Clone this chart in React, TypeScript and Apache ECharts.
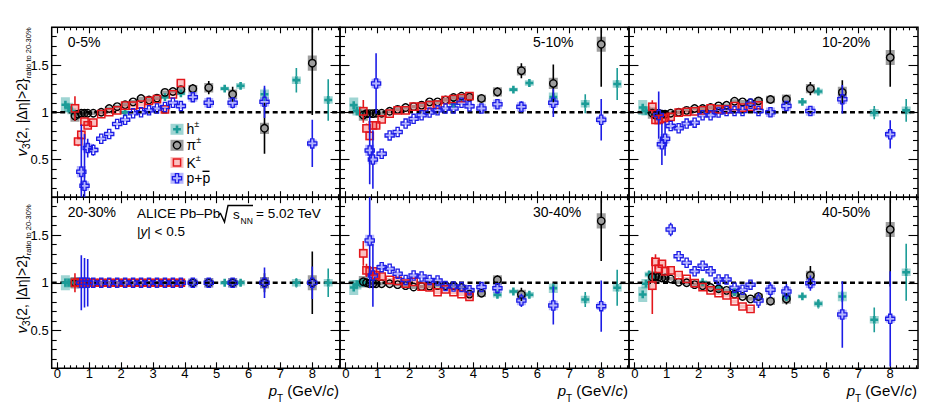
import React, { useEffect, useRef } from "react";
import * as echarts from "echarts";

const FONT = '"Liberation Sans", Arial, Helvetica, sans-serif';
const N = null;

// pT bin centres (GeV/c) for each species
const PT_H = [0.25, 0.35, 0.45, 0.55, 0.65, 0.75, 0.85, 0.95, 1.125, 1.375, 1.625, 1.875, 2.125, 2.375, 2.625, 2.875, 3.125, 3.375, 3.625, 3.875, 4.25, 4.75, 5.25, 5.75, 6.5, 7.5, 8.5];
const PT_PI = [0.55, 0.65, 0.75, 0.85, 0.95, 1.125, 1.375, 1.625, 1.875, 2.125, 2.375, 2.625, 2.875, 3.125, 3.375, 3.625, 3.875, 4.25, 4.75, 5.5, 6.5, 8.0];
const PT_K = [0.55, 0.65, 0.75, 0.85, 0.95, 1.125, 1.375, 1.625, 1.875, 2.125, 2.375, 2.625, 2.875, 3.125, 3.375, 3.625, 3.875];
const PT_P = [0.75, 0.85, 0.95, 1.125, 1.375, 1.625, 1.875, 2.125, 2.375, 2.625, 2.875, 3.125, 3.375, 3.625, 3.875, 4.25, 4.75, 5.5, 6.5, 8.0];

// systematic uncertainties (half height of the boxes)
const SYS_H = [0.08, 0.05, 0.03, 0.02, 0.02, 0.02, 0.02, 0.02, 0.02, 0.02, 0.02, 0.02, 0.02, 0.02, 0.02, 0.02, 0.02, 0.02, 0.02, 0.02, 0.03, 0.03, 0.02, 0.03, 0.05, 0.04, 0.04];
const SYS_PI = [0.06, 0.02, 0.02, 0.02, 0.02, 0.02, 0.02, 0.02, 0.02, 0.02, 0.02, 0.02, 0.02, 0.02, 0.02, 0.02, 0.03, 0.04, 0.05, 0.05, 0.06, 0.08];
const SYS_K = [0.05, 0.04, 0.05, 0.04, 0.03, 0.03, 0.02, 0.02, 0.02, 0.02, 0.02, 0.02, 0.02, 0.02, 0.02, 0.02, 0.03];
const SYS_P = [0.06, 0.05, 0.05, 0.03, 0.02, 0.02, 0.02, 0.02, 0.02, 0.02, 0.02, 0.02, 0.02, 0.02, 0.03, 0.05, 0.05, 0.05, 0.05, 0.04];

type Pt = [number, number] | null; // [value, stat. error]

// 0-5%
const H_05: Pt[] = [[1.08, 0.02], [1.05, 0.01], [1.01, 0.01], N, N, N, N, N, N, N, N, N, [1.0, 0.01], N, N, N, N, [1.16, 0.01], N, [1.2, 0.01], N, N, [1.25, 0.02], [1.28, 0.03], [1.19, 0.07], [1.34, 0.13], [1.13, 0.22]];
const PI_05: Pt[] = [[0.96, 0.05], [0.98, 0.02], [0.99, 0.01], [0.99, 0.01], [0.99, 0.01], [0.99, 0.01], [1.0, 0.01], [1.04, 0.01], [1.06, 0.01], [1.08, 0.01], [1.11, 0.01], [1.145, 0.01], [1.13, 0.01], [1.15, 0.01], [1.21, 0.02], [1.22, 0.02], [1.24, 0.02], [1.25, 0.05], [1.26, 0.07], [1.19, 0.08], [0.83, 0.27], [1.52, 0.55]];
const K_05: Pt[] = [[1.04, 0.13], [0.69, 0.05], [0.76, 0.04], [0.9, 0.03], [0.86, 0.03], [0.89, 0.02], [0.98, 0.01], [1.0, 0.01], [1.02, 0.01], [1.07, 0.01], [1.07, 0.01], [1.08, 0.01], [1.12, 0.01], [1.14, 0.01], [1.03, 0.02], [1.19, 0.02], [1.31, 0.03]];
const P_05: Pt[] = [[0.37, 0.5], [0.22, 0.55], [0.62, 0.1], [0.6, 0.06], [0.72, 0.03], [0.77, 0.02], [0.875, 0.02], [0.92, 0.02], [0.99, 0.02], [1.0, 0.02], [1.02, 0.02], [1.04, 0.02], [1.055, 0.02], [1.1, 0.02], [1.065, 0.03], [1.16, 0.04], [1.1, 0.05], [1.1, 0.06], [1.11, 0.17], [0.67, 0.25]];

// 5-10%
const H_510: Pt[] = [[1.075, 0.02], [1.015, 0.01], [0.99, 0.01], N, N, N, N, N, N, N, N, N, N, N, N, N, N, [1.09, 0.01], N, N, N, N, [1.24, 0.02], [1.31, 0.03], [1.16, 0.05], [1.09, 0.1], [1.3, 0.17]];
const PI_510: Pt[] = [[0.97, 0.04], [0.985, 0.02], [0.986, 0.01], [0.986, 0.01], [0.99, 0.01], [0.99, 0.01], [1.01, 0.01], [1.03, 0.01], [1.05, 0.01], [1.06, 0.01], [1.075, 0.01], [1.11, 0.01], [1.11, 0.01], [1.13, 0.01], [1.156, 0.02], [1.17, 0.02], [1.16, 0.02], [1.146, 0.03], [1.216, 0.05], [1.44, 0.08], [1.305, 0.2], [1.72, 0.45]];
const K_510: Pt[] = [[1.01, 0.12], [0.83, 0.05], [0.75, 0.05], [0.86, 0.03], [0.86, 0.03], [0.925, 0.02], [0.985, 0.01], [1.02, 0.01], [1.02, 0.01], [1.06, 0.01], [1.06, 0.01], [1.075, 0.01], [1.08, 0.01], [1.13, 0.01], [1.14, 0.02], [1.15, 0.02], [1.17, 0.03]];
const P_510: Pt[] = [[0.596, 0.36], [0.5, 0.31], [1.305, 0.32], [0.56, 0.05], [0.755, 0.03], [0.79, 0.02], [0.88, 0.02], [0.93, 0.02], [0.968, 0.02], [0.997, 0.02], [1.02, 0.02], [1.04, 0.02], [1.04, 0.02], [1.1, 0.02], [1.064, 0.03], [1.04, 0.03], [1.085, 0.04], [1.057, 0.06], [1.1, 0.15], [0.92, 0.22]];

// 10-20%
const H_1020: Pt[] = [[1.05, 0.02], [1.015, 0.01], N, N, N, N, N, N, N, N, N, N, N, N, N, N, N, N, N, N, N, N, [1.11, 0.02], [1.22, 0.02], N, [0.995, 0.07], [1.02, 0.12]];
const PI_1020: Pt[] = [[0.99, 0.03], [0.97, 0.02], [0.99, 0.01], [0.98, 0.01], [0.98, 0.01], [0.99, 0.01], [1.0, 0.01], [1.02, 0.01], [1.04, 0.01], [1.04, 0.01], [1.05, 0.01], [1.067, 0.01], [1.074, 0.01], [1.117, 0.01], [1.11, 0.01], [1.1, 0.02], [1.12, 0.02], [1.135, 0.03], [1.138, 0.04], [1.25, 0.07], [1.21, 0.13], [1.58, 0.31]];
const K_1020: Pt[] = [[1.057, 0.07], [0.92, 0.03], [0.92, 0.03], [0.93, 0.02], [0.94, 0.02], [0.95, 0.02], [0.997, 0.01], [1.004, 0.01], [1.01, 0.01], [1.02, 0.01], [1.04, 0.01], [1.03, 0.01], [1.03, 0.01], [1.064, 0.01], [1.05, 0.02], [1.06, 0.02], [1.074, 0.02]];
const P_1020: Pt[] = [[0.97, 0.25], [0.66, 0.22], [0.72, 0.18], [0.855, 0.03], [0.83, 0.02], [0.88, 0.02], [0.89, 0.02], [0.968, 0.02], [0.968, 0.02], [0.997, 0.02], [1.014, 0.02], [1.014, 0.02], [1.014, 0.02], [1.09, 0.02], [1.014, 0.02], [1.0, 0.03], [1.067, 0.04], [1.014, 0.05], [1.138, 0.15], [0.766, 0.15]];

// 20-30% (reference class)
const H_2030: Pt[] = [[1, 0.01], [1, 0.01], [1, 0.01], N, N, N, N, N, N, N, N, N, N, N, N, N, N, N, N, N, N, N, [1, 0.01], [1, 0.02], N, [1, 0.05], [1, 0.15]];
const PI_2030: Pt[] = [[1, 0.03], [1, 0.02], [1, 0.01], [1, 0.01], [1, 0.01], [1, 0.01], [1, 0.01], [1, 0.01], [1, 0.01], [1, 0.01], [1, 0.01], [1, 0.01], [1, 0.01], [1, 0.01], [1, 0.01], [1, 0.01], [1, 0.01], [1, 0.02], [1, 0.03], [1, 0.05], [1, 0.1], [1, 0.33]];
const K_2030: Pt[] = [[1, 0.1], [1, 0.03], [1, 0.02], [1, 0.02], [1, 0.01], [1, 0.01], [1, 0.01], [1, 0.01], [1, 0.01], [1, 0.01], [1, 0.01], [1, 0.01], [1, 0.01], [1, 0.01], [1, 0.01], [1, 0.01], [1, 0.01]];
const P_2030: Pt[] = [[1, 0.29], [1, 0.26], [1, 0.25], [1, 0.03], [1, 0.02], [1, 0.02], [1, 0.02], [1, 0.02], [1, 0.02], [1, 0.02], [1, 0.02], [1, 0.02], [1, 0.02], [1, 0.02], [1, 0.02], [1, 0.03], [1, 0.04], [1, 0.05], [1, 0.16], [1, 0.17]];

// 30-40%
const H_3040: Pt[] = [[0.95, 0.02], [0.98, 0.01], [1.0, 0.01], [1.0, 0.01], N, N, N, N, N, N, N, N, N, N, N, N, N, N, N, N, N, [0.874, 0.02], [0.908, 0.02], [0.874, 0.03], [0.943, 0.05], [0.824, 0.08], [0.947, 0.19]];
const PI_3040: Pt[] = [[1.01, 0.03], [1.0, 0.02], [0.99, 0.01], [0.99, 0.01], [0.99, 0.01], [0.99, 0.01], [0.99, 0.01], [0.98, 0.01], [0.97, 0.01], [0.955, 0.01], [0.96, 0.01], [0.965, 0.01], [0.97, 0.01], [0.97, 0.01], [0.97, 0.01], [0.95, 0.02], [0.88, 0.02], [0.89, 0.03], [1.03, 0.05], [0.877, 0.07], N, [1.65, 0.42]];
const K_3040: Pt[] = [[1.31, 0.13], [1.13, 0.07], [1.12, 0.04], [1.12, 0.03], [1.08, 0.03], [1.066, 0.02], [1.03, 0.01], [1.02, 0.01], [0.99, 0.01], [1.01, 0.01], [0.96, 0.01], [0.95, 0.01], [0.9, 0.01], [0.93, 0.01], [0.9, 0.02], [0.88, 0.02], [0.85, 0.02]];
const P_3040: Pt[] = [[1.445, 0.5], [1.077, 0.33], N, [1.164, 0.05], [1.147, 0.03], [1.095, 0.02], [1.03, 0.02], [1.077, 0.02], [1.066, 0.02], [1.03, 0.02], [1.024, 0.02], [0.965, 0.02], [0.96, 0.02], [0.954, 0.02], [0.92, 0.03], [0.954, 0.04], [0.943, 0.04], [0.814, 0.07], [0.76, 0.2], [0.754, 0.27]];

// 40-50%
const H_4050: Pt[] = [[0.877, 0.03], [0.99, 0.02], [1.087, 0.02], [1.06, 0.01], N, N, N, N, N, N, N, N, [1.006, 0.01], N, [0.947, 0.01], N, [0.9, 0.01], N, N, N, N, [0.85, 0.02], [0.856, 0.02], [0.78, 0.05], [0.856, 0.06], [0.61, 0.13], [1.11, 0.3]];
const PI_4050: Pt[] = [[1.06, 0.03], [1.066, 0.02], [1.06, 0.01], [1.05, 0.01], [1.05, 0.01], [1.04, 0.01], [1.006, 0.01], [1.0, 0.01], [0.98, 0.01], [0.97, 0.01], [0.95, 0.01], [0.937, 0.01], [0.92, 0.01], [0.88, 0.01], [0.856, 0.02], [0.83, 0.02], [0.856, 0.04], [0.806, 0.04], [0.83, 0.06], [1.077, 0.1], N, [1.56, 0.6]];
const K_4050: Pt[] = [[0.97, 0.3], [1.22, 0.08], [1.147, 0.04], [1.2, 0.03], [1.12, 0.03], [1.13, 0.02], [1.08, 0.01], [1.04, 0.01], [0.996, 0.01], [0.955, 0.01], [0.92, 0.01], [0.89, 0.01], [0.866, 0.01], [0.803, 0.02], [0.75, 0.03], [0.726, 0.04], N];
const P_4050: Pt[] = [N, N, N, [1.56, 0.07], [1.28, 0.05], [1.21, 0.04], [1.12, 0.03], [1.18, 0.03], [1.12, 0.03], [1.035, 0.03], [1.035, 0.03], [0.947, 0.03], [0.926, 0.03], [0.98, 0.04], [0.814, 0.08], [0.926, 0.08], [0.908, 0.08], [0.996, 0.08], [0.666, 0.35], [0.62, 0.5]];

const X_TICKS = [0, 1, 2, 3, 4, 5, 6, 7, 8];
const Y_TICKS = [0.5, 1, 1.5];
const X_MIN = -0.18;
const X_MAX = 8.87;
const Y_MIN = 0.1;
const Y_MAX = 1.9;

const MINOR_X: number[] = [];
for (let i = 1; i <= 44; i++) {
  const v = +(i * 0.2).toFixed(1);
  if (v % 1 !== 0) MINOR_X.push(v);
}
const MINOR_Y: number[] = [];
for (let i = 1; i <= 19; i++) {
  if (i % 5 !== 0) MINOR_Y.push(i / 10);
}

const PANELS = [
  { label: "0-5%", right: false, h: H_05, pi: PI_05, k: K_05, p: P_05 },
  { label: "5-10%", right: true, h: H_510, pi: PI_510, k: K_510, p: P_510 },
  { label: "10-20%", right: true, h: H_1020, pi: PI_1020, k: K_1020, p: P_1020 },
  { label: "20-30%", right: false, h: H_2030, pi: PI_2030, k: K_2030, p: P_2030 },
  { label: "30-40%", right: true, h: H_3040, pi: PI_3040, k: K_3040, p: P_3040 },
  { label: "40-50%", right: true, h: H_4050, pi: PI_4050, k: K_4050, p: P_4050 },
];

const SPECIES = [
  { key: "h", xs: PT_H, sys: SYS_H, color: "#1b9c97", box: "rgba(27,156,151,0.42)", marker: "fcross" },
  { key: "pi", xs: PT_PI, sys: SYS_PI, color: "#000000", box: "rgba(0,0,0,0.38)", marker: "circle" },
  { key: "k", xs: PT_K, sys: SYS_K, color: "#e3171c", box: "rgba(240,60,60,0.32)", marker: "square" },
  { key: "p", xs: PT_P, sys: SYS_P, color: "#1c1ce6", box: "rgba(70,70,250,0.4)", marker: "ocross" },
];

// frame geometry (px)
const X_EDGES = [51.7, 340, 629, 918];
const Y_EDGES = [27.3, 197.2, 368.3];
const BOX_HW = 4.5;

function markerEl(kind: string, cx: number, cy: number, color: string): any {
  if (kind === "circle") {
    return { type: "circle", shape: { cx, cy, r: 3.7 }, style: { fill: "none", stroke: color, lineWidth: 1.4 } };
  }
  if (kind === "square") {
    return { type: "rect", shape: { x: cx - 3.6, y: cy - 3.6, width: 7.2, height: 7.2 }, style: { fill: "none", stroke: color, lineWidth: 1.5 } };
  }
  const a = kind === "fcross" ? 3.9 : 4.6;
  const t = kind === "fcross" ? 1.3 : 1.6;
  const pts = [[-t, -a], [t, -a], [t, -t], [a, -t], [a, t], [t, t], [t, a], [-t, a], [-t, t], [-a, t], [-a, -t], [-t, -t]].map(([dx, dy]) => [cx + dx, cy + dy]);
  if (kind === "fcross") return { type: "polygon", shape: { points: pts }, style: { fill: color } };
  return { type: "polygon", shape: { points: pts }, style: { fill: "none", stroke: color, lineWidth: 1.3 } };
}

const markerR: Record<string, number> = { fcross: 3.9, circle: 3.7, square: 3.6, ocross: 4.6 };

function rows(xs: number[], pts: Pt[], sys: number[]) {
  const out: number[][] = [];
  xs.forEach((x, i) => {
    const p = pts[i];
    if (p) out.push([x, p[0], p[1], sys[i]]);
  });
  return out;
}

function buildOption() {
  const grids: any[] = [];
  const xAxes: any[] = [];
  const yAxes: any[] = [];
  const series: any[] = [];
  const graphic: any[] = [];

  PANELS.forEach((pn: any, g) => {
    const col = g % 3;
    const row = Math.floor(g / 3);
    const left = X_EDGES[col];
    const top = Y_EDGES[row];
    grids.push({
      left, top,
      width: X_EDGES[col + 1] - left,
      height: Y_EDGES[row + 1] - top,
      show: true, borderColor: "#000", borderWidth: 1.5, backgroundColor: "transparent",
    });

    const xa = (pos: string, vals: number[], len: number, lab: boolean) => ({
      type: "value", gridIndex: g, position: pos, min: X_MIN, max: X_MAX,
      axisLine: { show: false, onZero: false },
      splitLine: { show: false },
      axisTick: { show: true, inside: true, length: len, customValues: vals, lineStyle: { color: "#000", width: 1.1 } },
      axisLabel: { show: lab, customValues: vals, margin: 0, fontSize: 13, lineHeight: 10, color: "#000", fontFamily: FONT },
    });
    xAxes.push(xa("bottom", X_TICKS, 6, row === 1), xa("bottom", MINOR_X, 3, false), xa("top", X_TICKS, 6, false), xa("top", MINOR_X, 3, false));

    const ya = (pos: string, vals: number[], len: number, lab: boolean) => ({
      type: "value", gridIndex: g, position: pos, min: Y_MIN, max: Y_MAX,
      axisLine: { show: false, onZero: false },
      splitLine: { show: false },
      axisTick: { show: true, inside: true, length: len, customValues: vals, lineStyle: { color: "#000", width: 1.1 } },
      axisLabel: { show: lab, customValues: vals, margin: 3, fontSize: 13, color: "#000", fontFamily: FONT },
    });
    yAxes.push(ya("left", Y_TICKS, 9.5, col === 0), ya("left", MINOR_Y, 5, false), ya("right", Y_TICKS, 9.5, false), ya("right", MINOR_Y, 5, false));

    const ax = g * 4;
    // systematic boxes
    SPECIES.forEach((sp) => {
      series.push({
        type: "custom", xAxisIndex: ax, yAxisIndex: ax, clip: true, silent: true, z: 1,
        data: rows(sp.xs, pn[sp.key], sp.sys),
        encode: { x: 0, y: 1 },
        renderItem: (_params: any, api: any) => {
          const x = api.value(0), y = api.value(1), s = api.value(3);
          const p1 = api.coord([x, y + s]);
          const p2 = api.coord([x, y - s]);
          return { type: "rect", shape: { x: p1[0] - BOX_HW, y: p1[1], width: BOX_HW * 2, height: p2[1] - p1[1] }, style: { fill: sp.box } };
        },
      });
    });
    // dashed unity line
    series.push({
      type: "line", xAxisIndex: ax, yAxisIndex: ax, silent: true, z: 2, symbol: "none",
      data: [[X_MIN, 1], [X_MAX, 1]],
      lineStyle: { color: "#000", width: 2.3, type: [5, 3.5] },
    });
    // stat. errors + markers
    SPECIES.forEach((sp, si) => {
      series.push({
        type: "custom", xAxisIndex: ax, yAxisIndex: ax, clip: true, silent: true, z: 3 + si,
        data: rows(sp.xs, pn[sp.key], sp.sys),
        encode: { x: 0, y: 1 },
        renderItem: (_params: any, api: any) => {
          const x = api.value(0), y = api.value(1), e = api.value(2);
          const c = api.coord([x, y]);
          const yt = api.coord([x, y + e])[1];
          const yb = api.coord([x, y - e])[1];
          const r = markerR[sp.marker];
          const children: any[] = [];
          const ls = { stroke: sp.color, lineWidth: 1.6 };
          if (c[1] - yt > r) children.push({ type: "line", shape: { x1: c[0], y1: yt, x2: c[0], y2: c[1] - r }, style: ls });
          if (yb - c[1] > r) children.push({ type: "line", shape: { x1: c[0], y1: c[1] + r, x2: c[0], y2: yb }, style: ls });
          children.push(markerEl(sp.marker, c[0], c[1], sp.color));
          return { type: "group", children };
        },
      });
    });

    // centrality label
    graphic.push({
      type: "text", z: 50,
      x: pn.right ? left + 193 : left + 16, y: top + 15,
      style: { text: pn.label, fontSize: 14, fontFamily: FONT, fill: "#000", align: "left", verticalAlign: "middle" },
    });

    // x-axis title on bottom row
    if (row === 1) {
      graphic.push({
        type: "text", z: 50, x: X_EDGES[col + 1] - 1, y: 383,
        style: {
          text: "{it|p}{sub|T}{n| (GeV/}{it|c}{n|)}",
          align: "right", verticalAlign: "top", fill: "#000",
          rich: {
            it: { fontSize: 15, fontStyle: "italic", fontFamily: FONT, lineHeight: 14, verticalAlign: "top", fill: "#000" },
            n: { fontSize: 15, fontFamily: FONT, lineHeight: 14, verticalAlign: "top", fill: "#000" },
            sub: { fontSize: 10, fontFamily: FONT, lineHeight: 10, padding: [10, 0, 0, 0], verticalAlign: "top", fill: "#000" },
          },
        },
      });
    }
  });

  // y-axis titles
  [92, 269].forEach((cy) => {
    graphic.push({
      type: "text", z: 50, x: 21.5, y: cy, rotation: Math.PI / 2,
      style: {
        text: "{v|v}{s3|3}{2, |Δη|>2}{r|ratio to 20-30%}",
        fontSize: 14, fontFamily: FONT, fill: "#000",
        align: "center", verticalAlign: "middle",
        rich: {
          v: { fontSize: 15, fontStyle: "italic", fontFamily: FONT, lineHeight: 16, fill: "#000" },
          s3: { fontSize: 10, fontFamily: FONT, lineHeight: 10, padding: [9, 0, 0, 0], fill: "#000" },
          r: { fontSize: 7.5, fontFamily: FONT, lineHeight: 7.5, padding: [14, 0, 0, 0], fill: "#000" },
        },
      },
    });
  });

  // legend (first panel)
  const LEG_Y = [129.3, 145.3, 162.5, 178.3];
  const LEG_TXT = ["{m|h}{sup|±}", "{m|π}{sup|±}", "{m|K}{sup|±}", "{m|p+p}"];
  SPECIES.forEach((sp, i) => {
    const cy = LEG_Y[i];
    graphic.push({ type: "rect", z: 50, shape: { x: 170.5, y: cy - 5.5, width: 13, height: 11 }, style: { fill: sp.box } });
    graphic.push({ ...markerEl(sp.marker, 177, cy, sp.color), z: 51 });
    graphic.push({
      type: "text", z: 50, x: 186.5, y: cy,
      style: {
        text: LEG_TXT[i], align: "left", verticalAlign: "middle", fill: "#000",
        rich: {
          m: { fontSize: 14, fontFamily: FONT, lineHeight: 16, fill: "#000" },
          sup: { fontSize: 9, fontFamily: FONT, lineHeight: 9, padding: [0, 0, 10, 0], fill: "#000" },
        },
      },
    });
  });
  // anti-proton bar
  graphic.push({ type: "line", z: 51, shape: { x1: 202.5, y1: 171.3, x2: 209.5, y2: 171.3 }, style: { stroke: "#000", lineWidth: 1.4 } });

  // ALICE system label
  const t = (text: string, x: number, y: number, size: number) => ({
    type: "text", z: 50, x, y,
    style: { text, fontSize: size, fontFamily: FONT, fill: "#000", align: "left", verticalAlign: "middle" },
  });
  graphic.push(t("ALICE Pb–Pb", 137, 213, 13.5));
  graphic.push({
    type: "polyline", z: 50,
    shape: { points: [[218.5, 215], [220.5, 213.5], [224.5, 222], [228, 205.5], [253, 205.5]] },
    style: { stroke: "#000", lineWidth: 1.4, fill: "none" },
  });
  graphic.push(t("s", 233, 214, 13.5));
  graphic.push(t("NN", 240.5, 220.5, 8.5));
  graphic.push(t("= 5.02 TeV", 256, 213, 13.5));
  graphic.push({
    type: "text", z: 50, x: 137, y: 231,
    style: {
      text: "{n||}{i|y}{n|| < 0.5}", align: "left", verticalAlign: "middle", fill: "#000",
      rich: {
        n: { fontSize: 13.5, fontFamily: FONT, fill: "#000" },
        i: { fontSize: 13.5, fontFamily: FONT, fontStyle: "italic", fill: "#000" },
      },
    },
  });

  return {
    animation: false,
    backgroundColor: "#fff",
    textStyle: { fontFamily: FONT },
    grid: grids,
    xAxis: xAxes,
    yAxis: yAxes,
    series,
    graphic,
  };
}

const App: React.FC = () => {
  const chartRef = useRef<HTMLDivElement | null>(null);

  useEffect(() => {
    const chart = echarts.init(chartRef.current as HTMLDivElement, undefined, { renderer: "svg" });
    chart.setOption(buildOption() as any);
    return () => {
      chart.dispose();
    };
  }, []);

  return (
    <div
      ref={chartRef}
      style={{ position: "fixed", left: 0, top: 0, width: 950, height: 407, background: "#fff" }}
    />
  );
};

export default App;
